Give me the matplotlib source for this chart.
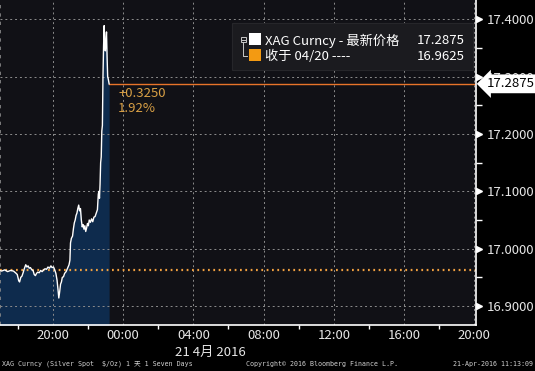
import matplotlib
matplotlib.use("Agg")
import matplotlib.dates as mdates
import matplotlib.pyplot as plt
import matplotlib.transforms as mtransforms
import pandas as pd
from matplotlib.patches import Rectangle
from matplotlib.lines import Line2D

plt.rcParams['font.family'] = ['Noto Sans CJK SC', 'DejaVu Sans']

# XAG Curncy, 20 Apr 2016 evening session
times = ["16:55", "17:05", "17:15", "17:25", "17:35", "17:45", "17:52", "17:58",
         "18:03", "18:06", "18:10", "18:14", "18:18", "18:22", "18:27", "18:31",
         "18:35", "18:39", "18:43", "18:48", "18:52", "18:56", "19:00", "19:04",
         "19:08", "19:13", "19:18", "19:23", "19:28", "19:33", "19:38", "19:43",
         "19:48", "19:53", "19:57", "20:02", "20:06", "20:10", "20:14", "20:17",
         "20:20", "20:23", "20:26", "20:29", "20:32", "20:36", "20:40", "20:45",
         "20:50", "20:55", "20:58", "21:00", "21:03", "21:07", "21:10", "21:13",
         "21:16", "21:19", "21:22", "21:25", "21:28", "21:31", "21:34", "21:37",
         "21:40", "21:43", "21:46", "21:49", "21:52", "21:55", "21:58", "22:01",
         "22:04", "22:08", "22:12", "22:16", "22:20", "22:24", "22:28", "22:32",
         "22:35", "22:37", "22:39", "22:41", "22:43", "22:45", "22:47", "22:49",
         "22:51", "22:53", "22:55", "22:57", "22:59", "23:01", "23:03", "23:05",
         "23:07", "23:09", "23:12"]
prices = [16.962, 16.961, 16.963, 16.960, 16.962, 16.961, 16.958, 16.955,
          16.944, 16.942, 16.950, 16.952, 16.958, 16.965, 16.972, 16.968,
          16.970, 16.966, 16.967, 16.963, 16.962, 16.955, 16.953, 16.957,
          16.959, 16.958, 16.962, 16.960, 16.963, 16.965, 16.964, 16.968,
          16.966, 16.970, 16.967, 16.968, 16.963, 16.957, 16.945, 16.930,
          16.914, 16.925, 16.938, 16.942, 16.950, 16.951, 16.957, 16.960,
          16.966, 16.972, 16.980, 17.010, 17.018, 17.022, 17.035, 17.045,
          17.050, 17.058, 17.062, 17.070, 17.076, 17.066, 17.070, 17.050,
          17.038, 17.042, 17.034, 17.040, 17.030, 17.036, 17.044, 17.040,
          17.050, 17.046, 17.052, 17.047, 17.055, 17.056, 17.062, 17.068,
          17.095, 17.100, 17.088, 17.112, 17.150, 17.160, 17.205, 17.215,
          17.300, 17.352, 17.389, 17.360, 17.345, 17.362, 17.378, 17.335,
          17.300, 17.296, 17.2875]
prev_close = 16.9625
last_price = 17.2875
y_ticks = [16.9, 17.0, 17.1, 17.2, 17.3, 17.4]
y_minor = [16.95, 17.05, 17.15, 17.25, 17.35]

x = pd.to_datetime(["2016-04-20 " + t for t in times])
change = last_price - prev_close
pct = change / prev_close * 100

W, H = 535, 371
def fx(px):
    return px / W
def fy(py):
    return 1 - py / H

fig = plt.figure(figsize=(W / 100, H / 100), dpi=100, facecolor='black')
ax = fig.add_axes([0, fy(325), fx(476), 325 / H])
ax.set_facecolor('#111116')

ax.fill_between(x, prices, 16.80, color='#0e2b4d', lw=0, zorder=1)
ax.plot(x, prices, color='white', lw=1.0, zorder=3)
ax.axhline(prev_close, color='#f0a040', lw=1.6, ls=(0, (0.8, 1.6)), zorder=2)
ax.plot([x[-1], pd.Timestamp("2016-04-21 21:00")], [last_price, last_price],
        color='#e8742a', lw=1.0, zorder=2)

ax.xaxis.set_major_locator(mdates.HourLocator(byhour=[0, 4, 8, 12, 16, 20]))
ax.xaxis.set_minor_locator(mdates.HourLocator(byhour=[2, 6, 10, 14, 18, 22]))
ax.xaxis.set_major_formatter(mdates.DateFormatter('%H:%M'))
ax.yaxis.tick_right()
ax.set_yticks(y_ticks)
ax.set_yticks(y_minor, minor=True)
ax.yaxis.set_major_formatter(plt.FuncFormatter(lambda v, p: f"{v:.4f}"))

ax.set_xlim(pd.Timestamp("2016-04-20 16:59"), pd.Timestamp("2016-04-21 20:06"))
ax.set_ylim(16.8669, 17.4337)

ax.tick_params(axis='x', which='major', length=0, pad=3, colors='#e6e6e6', labelsize=9.5)
ax.tick_params(axis='x', which='minor', length=3, width=1, color='white', direction='out')
ax.tick_params(axis='y', which='major', length=0, pad=8, colors='#e6e6e6', labelsize=9.5)
ax.tick_params(axis='y', which='minor', length=4, width=1, color='white', direction='out')

ax.grid(True, which='major', color='#8c8c8c', ls=(0, (2, 3)), lw=0.7)
for s in ['top', 'left']:
    ax.spines[s].set_visible(False)
for s in ['bottom', 'right']:
    ax.spines[s].set_color('white')
    ax.spines[s].set_linewidth(1.2)
ax.axvline(ax.get_xlim()[0], color='#8c8c8c', ls=(0, (2, 3)), lw=1.2)

# arrow markers for major y ticks
tr = mtransforms.blended_transform_factory(ax.transAxes, ax.transData)
ax.plot([1.006] * len(y_ticks), y_ticks, ls='none', marker='>', ms=4.5,
        color='white', transform=tr, clip_on=False, zorder=4)

# last price flag
ax.annotate(f"{last_price:.4f}", xy=(1.0, last_price), xycoords=tr,
            xytext=(11, 0), textcoords='offset pixels', ha='left', va='center',
            fontsize=9.5, color='black', zorder=10, annotation_clip=False,
            bbox=dict(boxstyle='larrow,pad=0.22', fc='white', ec='none'))

# change annotation
ax.annotate(f"+{change:.4f}\n{pct:.2f}%", xy=(x[-1], last_price),
            xytext=(9, -3), textcoords='offset pixels', ha='left', va='top',
            fontsize=9.5, color='#d9a045', linespacing=1.2, zorder=6)

# legend panel
fig.patches.append(Rectangle((fx(232), fy(70)), fx(473) - fx(232), (70 - 23) / H,
                             transform=fig.transFigure, fc='#1b1b1f', ec='#26262a', lw=0.8))
fig.patches.append(Rectangle((fx(249), fy(45)), 12 / W, 12 / H, transform=fig.transFigure,
                             fc='white', ec='none'))
fig.patches.append(Rectangle((fx(249), fy(61)), 12 / W, 12 / H, transform=fig.transFigure,
                             fc='#f39a12', ec='none'))
fig.patches.append(Rectangle((fx(240.5), fy(42)), 5 / W, 5 / H, transform=fig.transFigure,
                             fc='none', ec='#c8c8c8', lw=0.7))
fig.lines.append(Line2D([fx(241.5), fx(244.5)], [fy(39.5), fy(39.5)], transform=fig.transFigure,
                        color='#c8c8c8', lw=0.7))
fig.lines.append(Line2D([fx(243), fx(243), fx(247)], [fy(42), fy(56), fy(56)],
                        transform=fig.transFigure, color='#c8c8c8', lw=0.7))
fig.text(fx(265), fy(40.5), "XAG Curncy - 最新价格", color='white', fontsize=9.5, va='center')
fig.text(fx(465), fy(40.5), f"{last_price:.4f}", color='white', fontsize=9.5, va='center', ha='right')
fig.text(fx(265), fy(56), "收于 04/20 ----", color='white', fontsize=9.5, va='center')
fig.text(fx(465), fy(56), f"{prev_close:.4f}", color='white', fontsize=9.5, va='center', ha='right')

# date under axis
fig.text(fx(210), fy(352), "21 4月 2016", color='#e6e6e6', fontsize=9.5, ha='center', va='center')

# footer
foot = dict(color='#d0d0d0', fontsize=4.8, va='center', family=['DejaVu Sans Mono', 'Noto Sans CJK SC'])
fig.text(fx(2), fy(364), "XAG Curncy (Silver Spot  $/Oz) 1 天 1 Seven Days", **foot)
fig.text(fx(246), fy(364), "Copyright© 2016 Bloomberg Finance L.P.", **foot)
fig.text(fx(533), fy(364), "21-Apr-2016 11:13:09", ha='right', **foot)

fig.savefig("out.png", dpi=100, facecolor='black')
